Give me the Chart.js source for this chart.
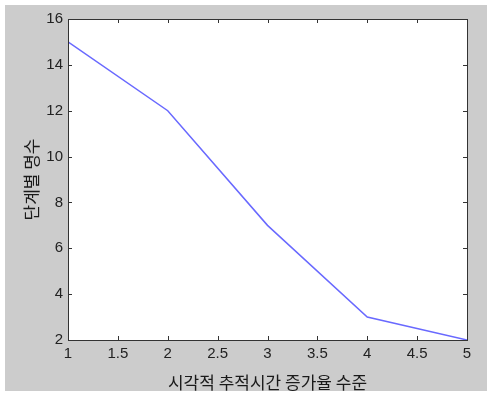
<!DOCTYPE html>
<html>
<head>
<meta charset="utf-8">
<script src="https://cdn.jsdelivr.net/npm/chart.js@4"></script>
<style>
  html, body { margin: 0; padding: 0; background: #fff; }
  canvas { display: block; }
</style>
</head>
<body>
<canvas id="chart" width="489" height="394"></canvas>
<script>
const levels = [1, 2, 3, 4, 5]
const counts = [15, 12, 7, 3, 2]
const xTitle = '시각적 추적시간 증가율 수준'
const yTitle = '단계별 명수'

// MATLAB-like figure: gray frame, white axes, inward ticks on all sides
const figure = {
    id: 'figure',
    beforeDraw(chart) {
        const ctx = chart.ctx
        const a = chart.chartArea
        ctx.save()
        ctx.fillStyle = '#fff'
        ctx.fillRect(0, 0, chart.width, chart.height)
        ctx.fillStyle = '#cccccc'
        ctx.fillRect(5, 5, chart.width - 7, chart.height - 8)
        ctx.fillStyle = '#fff'
        ctx.fillRect(a.left, a.top, a.right - a.left, a.bottom - a.top)
        ctx.restore()
    },
    afterDraw(chart) {
        const ctx = chart.ctx
        const a = chart.chartArea
        const xs = chart.scales.x
        const ys = chart.scales.y
        const len = 4
        ctx.save()
        ctx.strokeStyle = '#333'
        ctx.lineWidth = 1
        ctx.beginPath()
        xs.ticks.forEach((t, i) => {
            const px = Math.round(xs.getPixelForTick(i)) + 0.5
            ctx.moveTo(px, a.bottom); ctx.lineTo(px, a.bottom - len)
            ctx.moveTo(px, a.top); ctx.lineTo(px, a.top + len)
        })
        ys.ticks.forEach((t, i) => {
            const py = Math.round(ys.getPixelForTick(i)) + 0.5
            ctx.moveTo(a.left, py); ctx.lineTo(a.left + len, py)
            ctx.moveTo(a.right, py); ctx.lineTo(a.right - len, py)
        })
        ctx.stroke()
        ctx.strokeRect(Math.round(a.left) + 0.5, Math.round(a.top) + 0.5,
            Math.round(a.right - a.left), Math.round(a.bottom - a.top))
        ctx.restore()
    }
}

const tickFont = { family: 'Liberation Sans', size: 15 }
const titleFont = { family: 'Noto Sans CJK KR', size: 17 }

new Chart(document.getElementById('chart'), {
    type: 'line',
    data: {
        datasets: [{
            data: levels.map((x, i) => ({ x: x, y: counts[i] })),
            borderColor: 'rgb(105, 105, 255)',
            borderWidth: 1.5,
            pointRadius: 0,
            tension: 0,
            fill: false
        }]
    },
    options: {
        responsive: false,
        animation: false,
        layout: { padding: { left: 12, top: 19, right: 22, bottom: 0 } },
        plugins: { legend: { display: false }, tooltip: { enabled: false } },
        scales: {
            x: {
                type: 'linear',
                min: 1,
                max: 5,
                grid: { display: false, drawTicks: false },
                border: { color: '#333' },
                ticks: { stepSize: 0.5, padding: 5, color: '#222', font: tickFont, maxRotation: 0,
                    callback: v => String(v) },
                title: { display: true, text: xTitle, color: '#1a1a1a', font: titleFont,
                    padding: { top: 0, bottom: 1 } },
                afterFit: s => { s.height = 54 }
            },
            y: {
                min: 2,
                max: 16,
                grid: { display: false, drawTicks: false },
                border: { color: '#333' },
                ticks: { stepSize: 2, padding: 5, color: '#222', font: tickFont },
                title: { display: true, text: yTitle, color: '#1a1a1a', font: titleFont,
                    padding: { top: 9, bottom: 0 } },
                afterFit: s => { s.width = 56 }
            }
        }
    },
    plugins: [figure]
})
</script>
</body>
</html>
